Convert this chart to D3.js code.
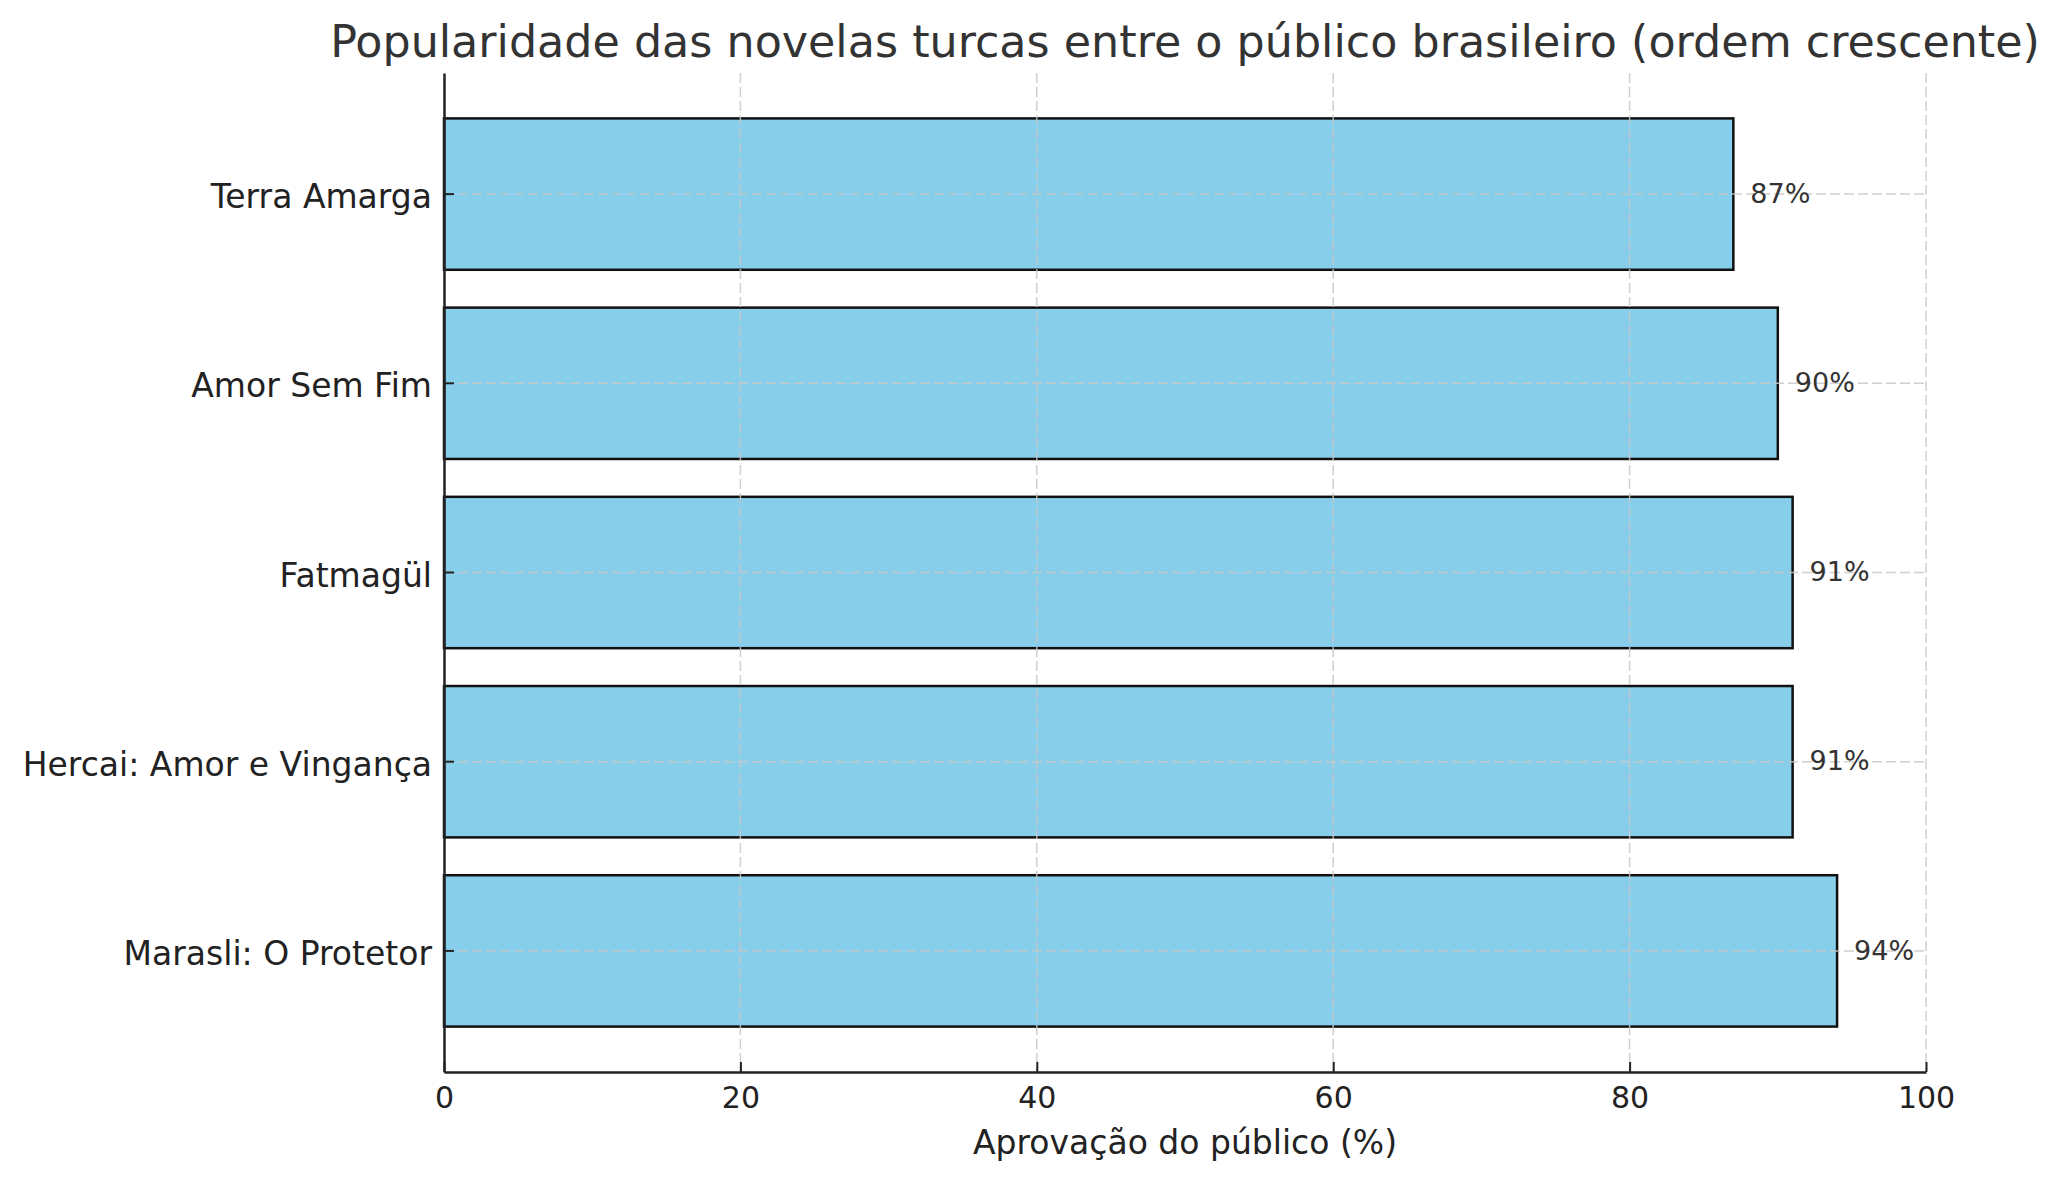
<!DOCTYPE html>
<html>
<head>
<meta charset="utf-8">
<script src="https://cdn.jsdelivr.net/npm/d3@7"></script>
<style>
  body { margin: 0; background: #fff; }
  text { font-family: "DejaVu Sans", sans-serif; }
</style>
</head>
<body>
<svg width="2062" height="1180"></svg>
<script>
// data, top to bottom as drawn
var novelas = ["Terra Amarga", "Amor Sem Fim", "Fatmagül", "Hercai: Amor e Vingança", "Marasli: O Protetor"];
var aprovacao = [87, 90, 91, 91, 94];
var xTicks = [0, 20, 40, 60, 80, 100];

var all = [];
for (var i = 0; i < novelas.length; i++) {
    all.push([novelas[i], aprovacao[i]]);
}

var svg = d3.select("svg");
// plot area edges ("top" is taken by window.top, so prefixed)
var pLeft = 444, pRight = 1926, pTop = 73, pBottom = 1072;

var xscale = d3.scaleLinear().domain([0, 100]).range([pLeft, pRight]);
var yscale = d3.scaleBand().domain(novelas).range([pTop, pBottom]).paddingInner(0.2).paddingOuter(0.24);

// bars
svg.append("g").selectAll("rect").data(all).enter().append("rect")
    .attr("x", xscale(0))
    .attr("y", function(d){ return yscale(d[0]); })
    .attr("width", function(d){ return xscale(d[1]) - xscale(0); })
    .attr("height", yscale.bandwidth())
    .attr("fill", "#87CEEB")
    .attr("stroke", "#111")
    .attr("stroke-width", 2.5);

// grid (drawn over the bars like matplotlib does)
var grid = svg.append("g").attr("stroke", "#c8c8c8").attr("stroke-width", 1.5).attr("stroke-dasharray", "10,4").attr("opacity", 0.85);
grid.selectAll("line.v").data(xTicks.slice(1)).enter().append("line")
    .attr("x1", function(d){ return xscale(d); }).attr("x2", function(d){ return xscale(d); })
    .attr("y1", pTop).attr("y2", pBottom);
grid.selectAll("line.h").data(novelas).enter().append("line")
    .attr("x1", pLeft).attr("x2", pRight)
    .attr("y1", function(d){ return yscale(d) + yscale.bandwidth() / 2; })
    .attr("y2", function(d){ return yscale(d) + yscale.bandwidth() / 2; });

// value labels
svg.append("g").selectAll("text").data(all).enter().append("text")
    .attr("x", function(d){ return xscale(d[1]) + 17; })
    .attr("y", function(d){ return yscale(d[0]) + yscale.bandwidth() / 2; })
    .attr("dy", "0.32em")
    .style("font-size", "27px")
    .style("fill", "#333")
    .text(function(d){ return d[1] + "%"; });

// axes
var x_axis = d3.axisBottom(xscale).tickValues(xTicks).tickSizeInner(-10).tickSizeOuter(0).tickPadding(15);
var y_axis = d3.axisLeft(yscale).tickSizeInner(-10).tickSizeOuter(0).tickPadding(12);

var gx = svg.append("g").attr("transform", "translate(0," + pBottom + ")").call(x_axis);
var gy = svg.append("g").attr("transform", "translate(" + pLeft + ",0)").call(y_axis);

[gx, gy].forEach(function(g){
    g.select(".domain").attr("stroke", "#222").attr("stroke-width", 2.5);
    g.selectAll(".tick line").attr("stroke", "#222").attr("stroke-width", 2);
    g.selectAll(".tick text").attr("fill", "#222").style("font-family", "DejaVu Sans");
});
gx.selectAll(".tick text").style("font-size", "30px");
gy.selectAll(".tick text").style("font-size", "33px").attr("dy", "0.43em");

// titles
svg.append("text")
    .attr("x", (pLeft + pRight) / 2)
    .attr("y", 57)
    .style("text-anchor", "middle")
    .style("font-size", "44.4px")
    .style("fill", "#333")
    .text("Popularidade das novelas turcas entre o público brasileiro (ordem crescente)");

svg.append("text")
    .attr("x", (pLeft + pRight) / 2)
    .attr("y", 1154)
    .style("text-anchor", "middle")
    .style("font-size", "33px")
    .style("fill", "#222")
    .text("Aprovação do público (%)");
</script>
</body>
</html>
